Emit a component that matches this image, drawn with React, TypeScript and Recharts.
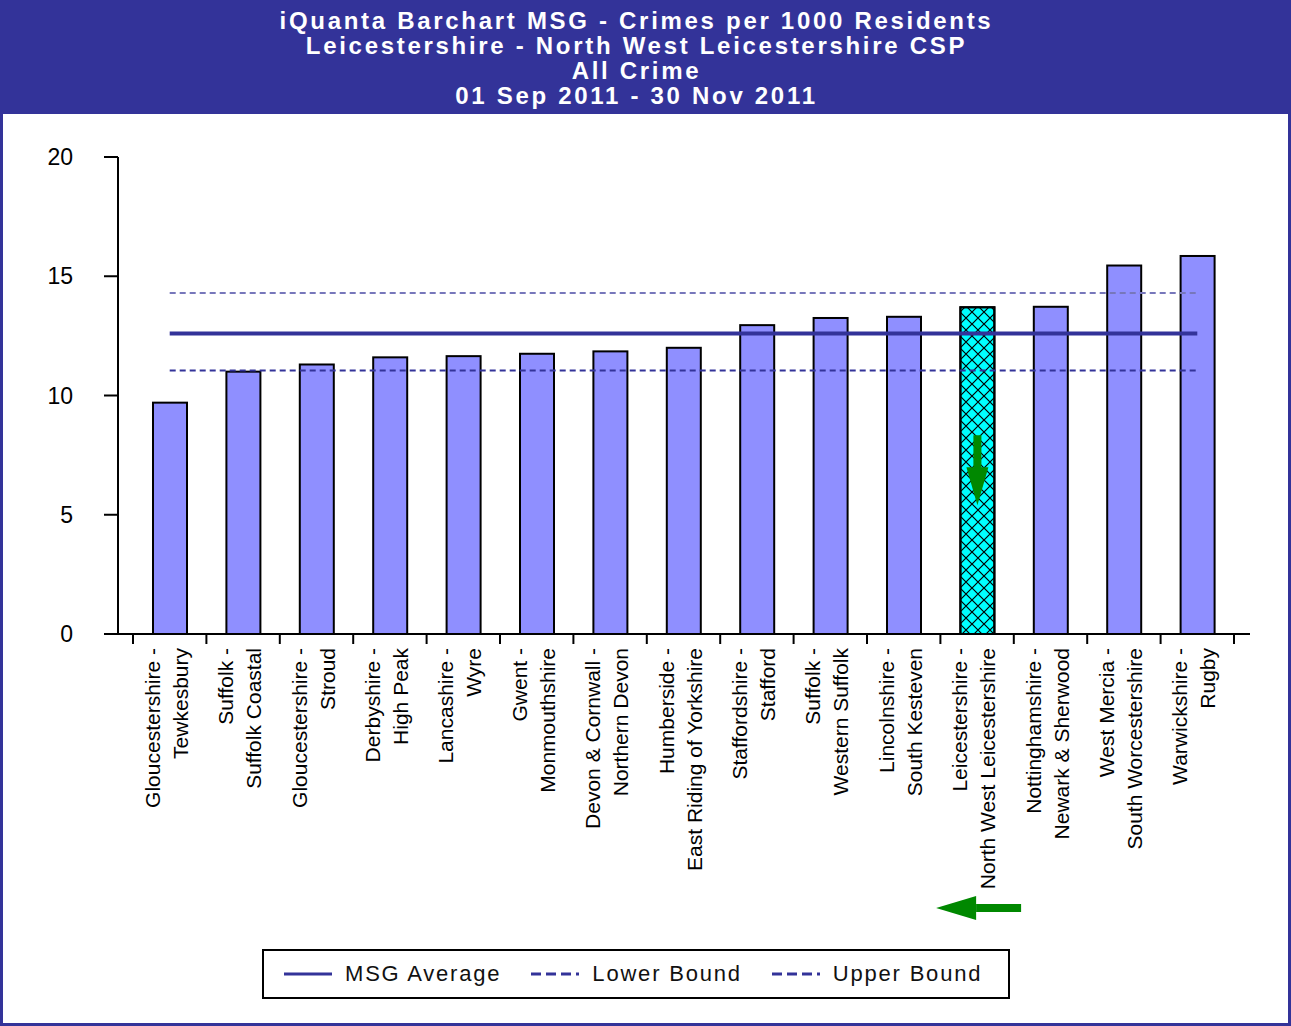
import {
  Bar,
  ComposedChart,
  Legend,
  Line,
  XAxis,
  YAxis,
} from "recharts";

const areas = [
  "Gloucestershire",
  "Suffolk",
  "Gloucestershire",
  "Derbyshire",
  "Lancashire",
  "Gwent",
  "Devon & Cornwall",
  "Humberside",
  "Staffordshire",
  "Suffolk",
  "Lincolnshire",
  "Leicestershire",
  "Nottinghamshire",
  "West Mercia",
  "Warwickshire",
];

const places = [
  "Tewkesbury",
  "Suffolk Coastal",
  "Stroud",
  "High Peak",
  "Wyre",
  "Monmouthshire",
  "Northern Devon",
  "East Riding of Yorkshire",
  "Stafford",
  "Western Suffolk",
  "South Kesteven",
  "North West Leicestershire",
  "Newark & Sherwood",
  "South Worcestershire",
  "Rugby",
];

const crimeRates = [
  9.7, 11.0, 11.3, 11.6, 11.65, 11.75, 11.85, 12.0, 12.95, 13.25, 13.3, 13.7,
  13.72, 15.45, 15.85,
];

const msgAverage = 12.6;
const lowerBound = 11.05;
const upperBound = 14.3;

const yTicks = [0, 5, 10, 15, 20];

const titleLines = [
  "iQuanta Barchart MSG - Crimes per 1000 Residents",
  "Leicestershire - North West Leicestershire CSP",
  "All Crime",
  "01 Sep 2011 - 30 Nov 2011",
];

const highlighted = "Leicestershire - North West Leicestershire";

const data = areas.map((a, i) => ({
  name: `${a} - ${places[i]}`,
  rate: crimeRates[i],
  avg: msgAverage,
  lower: lowerBound,
  upper: upperBound,
}));

// layout
const W = 1291;
const H = 1026;
const PLOT_LEFT = 118;
const PLOT_RIGHT = 1250;
const PAD_L = 15;
const PAD_R = 16;
const BAND = (PLOT_RIGHT - PLOT_LEFT - PAD_L - PAD_R) / data.length;

const NAVY = "#333399";
const sans = "'Liberation Sans', Arial, sans-serif";

function CategoryTick({ x, y, payload, index }: any) {
  const [area, place] = String(payload.value).split(" - ");
  const isLast = index === data.length - 1;
  return (
    <g>
      <line x1={x - BAND / 2} y1={y} x2={x - BAND / 2} y2={y + 10} stroke="#000" strokeWidth={2} />
      {isLast && (
        <line x1={x + BAND / 2} y1={y} x2={x + BAND / 2} y2={y + 10} stroke="#000" strokeWidth={2} />
      )}
      <text
        transform={`translate(${x},${y + 14}) rotate(-90)`}
        textAnchor="end"
        fontSize={21}
        fontFamily={sans}
        fill="#000"
      >
        <tspan x={0} y={-10}>{`${area} -`}</tspan>
        <tspan x={0} y={18}>{place}</tspan>
      </text>
      {payload.value === highlighted && (
        <g fill="#008800">
          <rect x={x - 1} y={y + 270} width={45} height={8} />
          <polygon points={`${x - 41},${y + 274} ${x - 1},${y + 262} ${x - 1},${y + 286}`} />
        </g>
      )}
    </g>
  );
}

function RateBar(props: any) {
  const { x, y, width, height, payload } = props;
  const hot = payload.name === highlighted;
  const cx = x + width / 2;
  return (
    <g>
      <rect
        x={x}
        y={y}
        width={width}
        height={height}
        fill={hot ? "#00ffff" : "#8f8fff"}
        stroke="#000"
        strokeWidth={2}
      />
      {hot && (
        <>
          <rect x={x} y={y} width={width} height={height} fill="url(#crossHatch)" />
          <rect x={x} y={y} width={width} height={height} fill="none" stroke="#000" strokeWidth={2} />
          <g fill="#008800">
            <rect x={cx - 4} y={y + 128} width={8} height={34} />
            <polygon points={`${cx - 11},${y + 160} ${cx + 11},${y + 160} ${cx},${y + 198}`} />
          </g>
        </>
      )}
    </g>
  );
}

const legendItems = [
  { label: "MSG Average", dash: undefined, color: NAVY },
  { label: "Lower Bound", dash: "10 5", color: NAVY },
  { label: "Upper Bound", dash: "10 5", color: NAVY },
];

function LegendBox() {
  return (
    <div
      style={{
        boxSizing: "border-box",
        width: 748,
        height: 50,
        border: "2px solid #000",
        display: "flex",
        alignItems: "center",
        paddingLeft: 20,
        fontFamily: sans,
        fontSize: 22,
        letterSpacing: 1.8,
        color: "#111",
        whiteSpace: "nowrap",
      }}
    >
      {legendItems.map((it, i) => (
        <div
          key={it.label}
          style={{ display: "flex", alignItems: "center", flexShrink: 0, marginLeft: i === 0 ? 0 : 30 }}
        >
          <svg width={48} height={10} style={{ marginRight: 13 }}>
            <line x1={0} y1={5} x2={48} y2={5} stroke={it.color} strokeWidth={3} strokeDasharray={it.dash} />
          </svg>
          <span>{it.label}</span>
        </div>
      ))}
    </div>
  );
}

export default function App() {
  return (
    <div
      style={{
        position: "absolute",
        left: 0,
        top: 0,
        width: W,
        height: H,
        boxSizing: "border-box",
        border: `3px solid ${NAVY}`,
        background: "#fff",
        overflow: "hidden",
      }}
    >
      <div
        style={{
          position: "absolute",
          left: 0,
          top: 0,
          boxSizing: "border-box",
          width: W - 6,
          height: 111,
          background: NAVY,
          color: "#fff",
          fontFamily: sans,
          fontWeight: "bold",
          fontSize: 24,
          letterSpacing: 2.7,
          lineHeight: "25px",
          textAlign: "center",
          paddingTop: 5,
          paddingRight: 18,
        }}
      >
        {titleLines.map((t) => (
          <div key={t}>{t}</div>
        ))}
      </div>
      <div style={{ position: "absolute", left: -3, top: -3 }}>
        <ComposedChart
          width={W}
          height={H}
          data={data}
          margin={{ top: 157, right: W - PLOT_RIGHT, bottom: 92, left: 0 }}
        >
          <defs>
            <pattern id="crossHatch" width={12} height={12} patternUnits="userSpaceOnUse">
              <path d="M0,0 L12,12 M12,0 L0,12" stroke="#000" strokeWidth={1.2} />
            </pattern>
          </defs>
          <XAxis
            xAxisId="top"
            orientation="top"
            dataKey="name"
            height={0}
            tick={false}
            tickLine={false}
            axisLine={{ stroke: "#aaa", strokeWidth: 2 }}
          />
          <YAxis
            yAxisId="right"
            orientation="right"
            width={0}
            domain={[0, 20]}
            tick={false}
            tickLine={false}
            axisLine={{ stroke: "#aaa", strokeWidth: 2 }}
          />
          <XAxis
            dataKey="name"
            interval={0}
            height={300}
            padding={{ left: PAD_L, right: PAD_R }}
            tickLine={false}
            tickSize={0}
            tickMargin={0}
            axisLine={{ stroke: "#000", strokeWidth: 2 }}
            tick={<CategoryTick />}
          />
          <YAxis
            width={PLOT_LEFT}
            domain={[0, 20]}
            ticks={yTicks}
            interval={0}
            tickSize={14}
            tickMargin={31}
            tickLine={{ stroke: "#000", strokeWidth: 2 }}
            axisLine={{ stroke: "#000", strokeWidth: 2 }}
            tick={{ fill: "#000", fontSize: 23, fontFamily: sans }}
          />
          <Bar dataKey="rate" barSize={34} shape={<RateBar />} isAnimationActive={false} />
          <Line
            dataKey="avg"
            name="MSG Average"
            stroke={NAVY}
            strokeWidth={4}
            dot={false}
            activeDot={false}
            isAnimationActive={false}
          />
          <Line
            dataKey="lower"
            name="Lower Bound"
            stroke={NAVY}
            strokeWidth={2}
            strokeDasharray="6 4"
            dot={false}
            activeDot={false}
            isAnimationActive={false}
          />
          <Line
            dataKey="upper"
            name="Upper Bound"
            stroke="#7777bb"
            strokeWidth={2}
            strokeDasharray="6 4"
            dot={false}
            activeDot={false}
            isAnimationActive={false}
          />
          <Legend
            verticalAlign="middle"
            content={<LegendBox />}
            wrapperStyle={{ left: 262, top: 949, width: 748, height: 50 }}
          />
        </ComposedChart>
      </div>
    </div>
  );
}
